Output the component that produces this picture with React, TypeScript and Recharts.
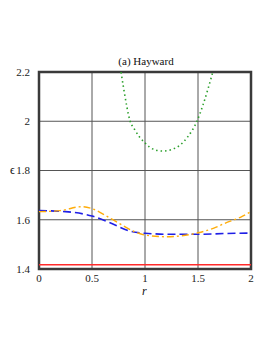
import React from 'react'
import { LineChart, Line, XAxis, YAxis, CartesianGrid, ReferenceArea } from 'recharts'

const xTicks = [0, 0.5, 1, 1.5, 2]
const yTicks = [1.4, 1.6, 1.8, 2, 2.2]

const redR = [0, 0.5, 1, 1.5, 2]
const redE = [1.417, 1.417, 1.417, 1.417, 1.417]

const blueR = [0, 0.25, 0.5, 0.67, 0.85, 1, 1.25, 1.5, 1.75, 2]
const blueE = [1.637, 1.633, 1.615, 1.588, 1.555, 1.545, 1.541, 1.541, 1.544, 1.546]

const orangeR = [0, 0.2, 0.4, 0.5, 0.65, 0.75, 0.9, 1, 1.2, 1.35, 1.5, 1.65, 1.75, 1.9, 2]
const orangeE = [1.633, 1.637, 1.653, 1.645, 1.612, 1.587, 1.552, 1.538, 1.531, 1.535, 1.547, 1.566, 1.585, 1.61, 1.633]

const greenR = [0.774, 0.8, 0.86, 0.9, 0.95, 1, 1.05, 1.1, 1.17, 1.25, 1.33, 1.4, 1.49, 1.55, 1.64]
const greenE = [2.2, 2.13, 2.0, 1.968, 1.935, 1.912, 1.893, 1.883, 1.879, 1.885, 1.903, 1.935, 2.0, 2.07, 2.2]

const toPts = (xs: number[], ys: number[]) => xs.map((r, i) => ({ r, e: ys[i] }))

const font = '"Liberation Serif", "DejaVu Serif", serif'

export default function App() {
  const tick = { fontFamily: font, fontSize: 11, fill: '#222' }
  return (
    <div style={{ position: 'relative', width: 265, height: 300 }}>
      <LineChart width={265} height={300} margin={{ top: 64, right: 22, bottom: 9, left: 0 }}>
        <CartesianGrid stroke="#555" strokeWidth={1} horizontalValues={[1.6, 1.8, 2]} verticalValues={[0.5, 1, 1.5]} />
        <XAxis
          type="number"
          dataKey="r"
          domain={[0, 2]}
          ticks={xTicks}
          height={30}
          tickLine={false}
          axisLine={false}
          tick={tick}
          tickFormatter={(v: number) => String(v)}
          tickMargin={-1}
        />
        <YAxis
          type="number"
          dataKey="e"
          domain={[1.4, 2.2]}
          ticks={yTicks}
          width={31}
          tickLine={false}
          axisLine={false}
          tick={tick}
          tickFormatter={(v: number) => String(v)}
          tickMargin={3}
          allowDataOverflow
        />
        <Line data={toPts(redR, redE)} dataKey="e" stroke="#ff2a2a" strokeWidth={1.5} dot={false} type="linear" isAnimationActive={false} />
        <Line data={toPts(blueR, blueE)} dataKey="e" stroke="#1f1fe6" strokeWidth={1.6} strokeDasharray="8 4" dot={false} type="monotone" isAnimationActive={false} />
        <Line data={toPts(orangeR, orangeE)} dataKey="e" stroke="#ffad0a" strokeWidth={1.4} strokeDasharray="7 3 2 3" dot={false} type="monotone" isAnimationActive={false} />
        <Line data={toPts(greenR, greenE)} dataKey="e" stroke="#2ca02c" strokeWidth={1.6} strokeDasharray="1.5 3" dot={false} type="monotone" isAnimationActive={false} />
        <ReferenceArea x1={0} x2={2} y1={1.4} y2={2.2} fill="none" stroke="#3a3a3a" strokeWidth={2.5} ifOverflow="visible" />
      </LineChart>
      <div style={{ position: 'absolute', left: 0, width: 276, top: 47, textAlign: 'center', fontFamily: font, fontSize: 11, color: '#111' }}>(a) Hayward</div>
      <div style={{ position: 'absolute', left: 2, top: 155, fontFamily: font, fontSize: 12, color: '#111' }}>ϵ</div>
      <div style={{ position: 'absolute', left: 134, top: 276, fontFamily: font, fontSize: 12, fontStyle: 'italic', color: '#111' }}>r</div>
    </div>
  )
}
